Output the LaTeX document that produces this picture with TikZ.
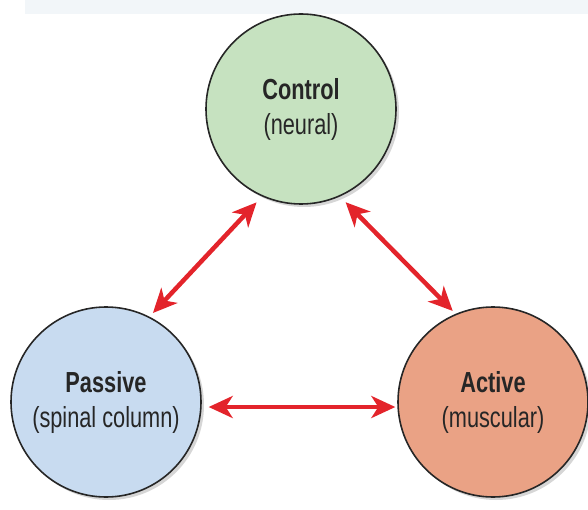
\documentclass[tikz,border=0pt]{standalone}
\usepackage{fontspec}
\setmainfont{Liberation Sans}[FakeStretch=0.75]
\usepackage{tikz}
\usetikzlibrary{arrows.meta,shadows}
\definecolor{ctrlgreen}{HTML}{C6E2C0}
\definecolor{passblue}{HTML}{C8DBF0}
\definecolor{actvorange}{HTML}{EAA285}
\definecolor{arrred}{HTML}{E3242B}
\definecolor{bandgray}{HTML}{F2F6F9}
\tikzset{
  ringnode/.style={circle, draw=black!85, line width=1.6pt, minimum size=190pt,
                   inner sep=0pt, align=center,
                   font=\fontsize{29}{35}\selectfont, text=black!85,
                   drop shadow={shadow xshift=3pt, shadow yshift=-3pt,
                                fill=black!40, opacity=0.4}},
  redarr/.style={{Stealth[length=24pt,width=22pt,inset=7pt]}-{Stealth[length=24pt,width=22pt,inset=7pt]},
                 draw=arrred, line width=4.5pt},
}

\begin{document}
\begin{tikzpicture}[x=1pt,y=1pt]
\useasboundingbox (0,0) rectangle (588,509);
\fill[bandgray] (25,495) rectangle (588,509);
\node[ringnode, fill=ctrlgreen] (ctrl) at (301,400) {\textbf{Control}\\(neural)};
\node[ringnode, fill=passblue] (pass) at (106,107) {\textbf{Passive}\\(spinal column)};
\node[ringnode, fill=actvorange] (actv) at (493,107) {\textbf{Active}\\(muscular)};
\draw[redarr, shorten <=8pt, shorten >=5pt] (ctrl.246.7) -- (pass.63.4);
\draw[redarr, shorten <=8pt, shorten >=4pt] (ctrl.294.6) -- (actv.113.7);
\draw[redarr, shorten <=7pt, shorten >=2pt] (pass.-3.4) -- (actv.183.5);
\end{tikzpicture}
\end{document}
